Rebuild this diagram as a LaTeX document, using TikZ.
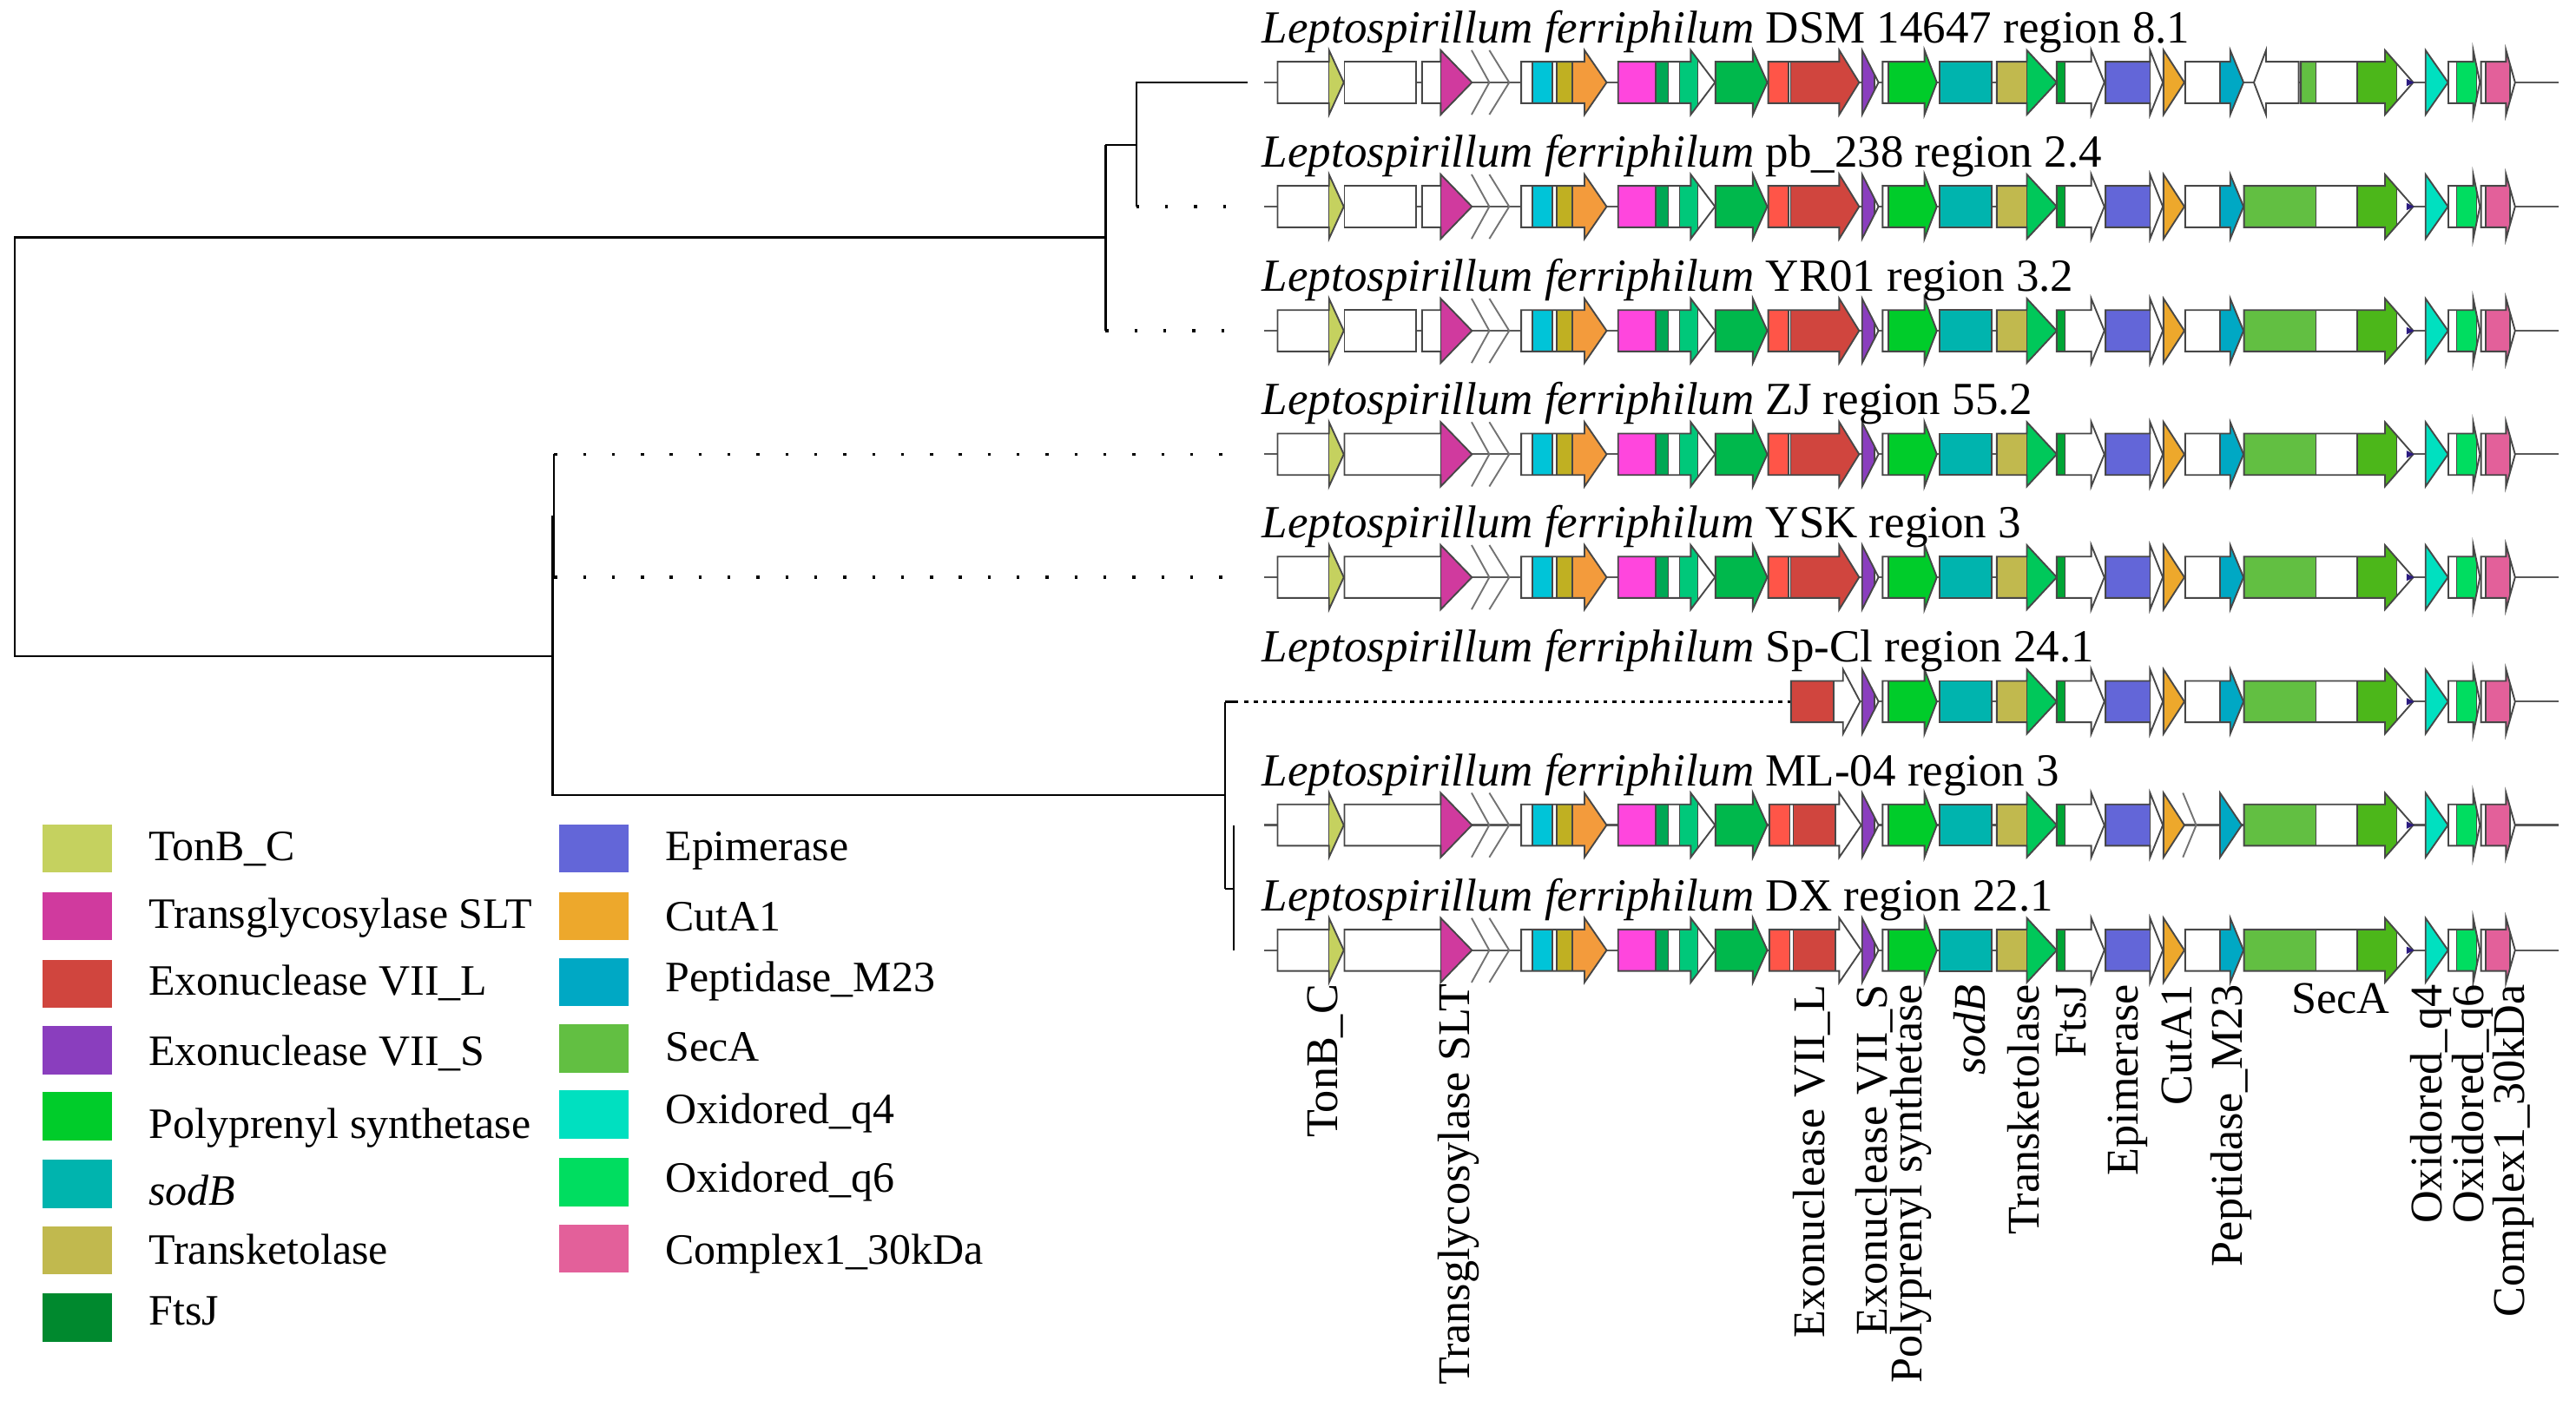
\documentclass[tikz,border=0pt]{standalone}
\usepackage{fontspec}
\setmainfont{Liberation Serif}
\definecolor{ctonb}{HTML}{C5D15F}
\definecolor{cslt}{HTML}{D03A9E}
\definecolor{cexol}{HTML}{D0453E}
\definecolor{cexored}{HTML}{FF5548}
\definecolor{cexos}{HTML}{8A3EBE}
\definecolor{cpoly}{HTML}{00CC2A}
\definecolor{csodb}{HTML}{00B4AE}
\definecolor{ctransk}{HTML}{C1B94E}
\definecolor{cftsj}{HTML}{00892E}
\definecolor{cftsjrow}{HTML}{00A535}
\definecolor{cepim}{HTML}{6366D8}
\definecolor{ccuta}{HTML}{EDA82C}
\definecolor{cpept}{HTML}{00A8C4}
\definecolor{cseca}{HTML}{62BF42}
\definecolor{csecb}{HTML}{4CB71A}
\definecolor{cq4}{HTML}{00E0C0}
\definecolor{cq6}{HTML}{00DD60}
\definecolor{ccomplex}{HTML}{E3609A}
\definecolor{ccyan}{HTML}{00C4D8}
\definecolor{colive}{HTML}{C0B022}
\definecolor{corange}{HTML}{F39B3C}
\definecolor{cpink}{HTML}{FF46DD}
\definecolor{cdkgreen}{HTML}{00A855}
\definecolor{ctealgreen}{HTML}{00C87A}
\definecolor{cmidgreen}{HTML}{00B84C}
\definecolor{cheadgreen}{HTML}{00C85A}
\definecolor{cnavy}{HTML}{2A1A80}
\tikzset{
  gout/.style={draw=black!72, line width=0.5pt, line join=miter},
  dline/.style={draw=black!72, line width=0.4pt},
  backbone/.style={draw=black!65, line width=0.6pt},
  tree/.style={draw=black, line width=0.6pt},
  dotline/.style={line width=0.9pt, dash pattern=on 0.9pt off 7.9pt},
  finedots/.style={draw=black, line width=0.6pt, dash pattern=on 1.2pt off 1.6pt},
  rowlab/.style={font=\fontsize{14}{16}\selectfont, inner sep=0pt, anchor=base west},
  leglab/.style={font=\fontsize{13.2}{15}\selectfont, inner sep=0pt, anchor=base west},
  botlab/.style={font=\fontsize{13.8}{15}\selectfont, inner sep=0pt, rotate=90, anchor=east},
  legbox/.style={inner sep=0pt, minimum width=21.35pt, minimum height=14.65pt, anchor=north west}
}
% gene arrow: y, start, head start, tip, domains colour/x1/x2
\newcommand{\genearrow}[5]{%
  \begin{scope}
    \clip (#2,#1-12.6) -- (#3,#1-12.6) -- (#3,#1-19.6) -- (#4,#1) -- (#3,#1+19.6) -- (#3,#1+12.6) -- (#2,#1+12.6) -- cycle;
    \fill[white] (#2-1,#1-25) rectangle (#4+1,#1+25);
    \foreach \dc/\da/\db in {#5}{\fill[\dc] (\da,#1-25) rectangle (\db,#1+25);
      \draw[dline] (\da,#1-25) -- (\da,#1+25) (\db,#1-25) -- (\db,#1+25);}
  \end{scope}
  \draw[gout] (#2,#1-12.6) -- (#3,#1-12.6) -- (#3,#1-19.6) -- (#4,#1) -- (#3,#1+19.6) -- (#3,#1+12.6) -- (#2,#1+12.6) -- cycle;
}
\newcommand{\rectgene}[4]{\draw[gout, fill=#4] (#2,#1-12.6) rectangle (#3,#1+12.6);}
\newcommand{\chevron}[3]{\draw[gout, draw=black!55] (#2,#1-19.6) -- (#3,#1) -- (#2,#1+19.6);}
\newcommand{\rowleft}[1]{%
  \genearrow{#1}{777.7}{809}{818}{ctonb/809/818}
  \chevron{#1}{895.8}{906.6}
  \chevron{#1}{906.6}{918.7}
  \genearrow{#1}{926}{964.5}{978}{ccyan/932.7/944.9,colive/947.6/957,corange/957/985}
  \genearrow{#1}{985}{1029.2}{1044}{cpink/985/1007.9,cdkgreen/1007.9/1015.6,ctealgreen/1022.5/1033.5}
  \genearrow{#1}{1044.2}{1067}{1075.8}{cmidgreen/1044.2/1080}
}
\newcommand{\rowright}[1]{%
  \genearrow{#1}{1133.5}{1133.5}{1143.5}{cexos/1133.5/1141}
  \genearrow{#1}{1146}{1171.5}{1179}{cpoly/1149.5/1185}
  \rectgene{#1}{1180.8}{1212.4}{csodb}
  \genearrow{#1}{1215.5}{1233.8}{1252}{ctransk/1215.5/1233.8,cheadgreen/1233.8/1260}
  \genearrow{#1}{1252}{1273}{1281}{cftsjrow/1252/1257}
  \genearrow{#1}{1281.7}{1308.8}{1316.6}{cepim/1281.7/1308.8}
  \genearrow{#1}{1317}{1317}{1329.7}{ccuta/1317/1335}
}
\newcommand{\rowend}[1]{%
  \fill[cnavy] (1465,#1-2.2) -- (1469.5,#1) -- (1465,#1+2.2) -- cycle;
  \genearrow{#1}{1476.5}{1476.5}{1490.2}{cq4/1476.5/1495}
  \genearrow{#1}{1490.4}{1505.5}{1509.6}{cq6/1495.3/1507.5}
  \genearrow{#1}{1510.3}{1525.5}{1531}{ccomplex/1513.2/1528}
}
\newcommand{\secagene}[2]{\genearrow{#1}{#2}{1451.8}{1469}{cseca/#2/1409.7,csecb/1435/1459}}
\newcommand{\peptgene}[1]{\genearrow{#1}{1330.2}{1357.6}{1365.7}{cpept/1351.5/1370}}
\newcommand{\sltgene}[1]{\genearrow{#1}{818.4}{877}{896}{cslt/877/896}}
\newcommand{\sltpair}[1]{\rectgene{#1}{818.4}{862}{white}\genearrow{#1}{865.6}{877}{896}{cslt/877/896}}
\newcommand{\exoA}[1]{\genearrow{#1}{1076.4}{1119.6}{1131.7}{cexored/1076.4/1088.6,cexol/1090/1140}}
\newcommand{\exoB}[1]{\genearrow{#1}{1077}{1119.6}{1133}{cexored/1077/1089.4,cexol/1091.7/1117.2}}

\begin{document}
\begin{tikzpicture}[x=0.5pt,y=-0.5pt]
\useasboundingbox (0,0) rectangle (1568.1,856.7);
\fill[white] (0,0) rectangle (1568.1,856.7);

% ---------------- tree ----------------
\coordinate (root1) at (8.9,144.6);
\coordinate (root2) at (8.9,399.6);
\coordinate (nA) at (673,144.6);
\coordinate (nB) at (691.7,88.1);
\coordinate (nC) at (336.4,399.6);
\coordinate (nE) at (745.8,484);
\draw[tree] (nA) -- (root1) -- (root2) -- (nC);
\draw[tree] (673,88.1) -- (673,201.4);
\draw[tree] (673,88.1) -- (nB);
\draw[tree] (759.5,50.2) -- (691.7,50.2) -- (691.7,125.8);
\draw[tree,dotline] (691.7,125.8) -- (759.5,125.8);
\draw[tree,dotline] (673,201.4) -- (759.5,201.4);
\draw[tree] (336.4,314) -- (336.4,484) -- (nE);
\draw[tree] (337.3,276.6) -- (337.3,351.5);
\draw[tree,dotline] (337.3,276.6) -- (759.5,276.6);
\draw[tree,dotline] (337.3,351.5) -- (759.5,351.5);
\draw[tree] (745.8,427.3) -- (745.8,541);
\draw[tree] (745.8,427.3) -- (753.6,427.3);
\draw[finedots] (757.6,427.3) -- (1090,427.3);
\draw[tree] (745.8,541) -- (751,541);
\draw[tree] (751,502.4) -- (751,578.6);

% ---------------- backbones ----------------
\foreach \yy in {50.2,125.8,201.4,276.6,351.5,502.4,578.6}{\draw[backbone] (769.5,\yy) -- (1557.4,\yy);}
\draw[backbone] (1090,427.2) -- (1557.4,427.2);

% ---------------- row 1 ----------------
\rowleft{50.2}\sltpair{50.2}\exoA{50.2}\rowright{50.2}\peptgene{50.2}
\draw[gout, fill=white] (1399.3,50.2-12.6) -- (1379.4,50.2-12.6) -- (1379.4,50.2-19.6) -- (1372,50.2) -- (1379.4,50.2+19.6) -- (1379.4,50.2+12.6) -- (1399.3,50.2+12.6) -- cycle;
\secagene{50.2}{1400.6}\rowend{50.2}
% ---------------- row 2 ----------------
\rowleft{125.8}\sltpair{125.8}\exoA{125.8}\rowright{125.8}\peptgene{125.8}\secagene{125.8}{1366}\rowend{125.8}
% ---------------- row 3 ----------------
\rowleft{201.4}\sltpair{201.4}\exoA{201.4}\rowright{201.4}\peptgene{201.4}\secagene{201.4}{1366}\rowend{201.4}
% ---------------- row 4 ----------------
\rowleft{276.6}\sltgene{276.6}\exoA{276.6}\rowright{276.6}\peptgene{276.6}\secagene{276.6}{1366}\rowend{276.6}
% ---------------- row 5 ----------------
\rowleft{351.5}\sltgene{351.5}\exoA{351.5}\rowright{351.5}\peptgene{351.5}\secagene{351.5}{1366}\rowend{351.5}
% ---------------- row 6 ----------------
\genearrow{427.2}{1090.2}{1121.9}{1132.3}{cexol/1090.2/1116.2}
\rowright{427.2}\peptgene{427.2}\secagene{427.2}{1366}\rowend{427.2}
% ---------------- row 7 ----------------
\rowleft{502.4}\sltgene{502.4}\exoB{502.4}\rowright{502.4}
\chevron{502.4}{1328.8}{1336.9}
\genearrow{502.4}{1351.4}{1351.4}{1364.6}{cpept/1351.4/1370}
\secagene{502.4}{1366}\rowend{502.4}
% ---------------- row 8 ----------------
\rowleft{578.6}\sltgene{578.6}\exoB{578.6}\rowright{578.6}\peptgene{578.6}\secagene{578.6}{1366}\rowend{578.6}

% ---------------- row labels ----------------
\node[rowlab] (lab1) at (768,26.2) {\textit{Leptospirillum ferriphilum} DSM 14647 region 8.1};
\node[rowlab] (lab2) at (768,101.8) {\textit{Leptospirillum ferriphilum} pb\_238 region 2.4};
\node[rowlab] (lab3) at (768,177.4) {\textit{Leptospirillum ferriphilum} YR01 region 3.2};
\node[rowlab] (lab4) at (768,252.6) {\textit{Leptospirillum ferriphilum} ZJ region 55.2};
\node[rowlab] (lab5) at (768,327.5) {\textit{Leptospirillum ferriphilum} YSK region 3};
\node[rowlab] (lab6) at (768,403.2) {\textit{Leptospirillum ferriphilum} Sp-Cl region 24.1};
\node[rowlab] (lab7) at (768,478.4) {\textit{Leptospirillum ferriphilum} ML-04 region 3};
\node[rowlab] (lab8) at (768,554.6) {\textit{Leptospirillum ferriphilum} DX region 22.1};

% ---------------- bottom labels ----------------
\node[botlab] (b1) at (807,599) {TonB\_C};
\node[botlab] (b2) at (888,599) {Transglycosylase SLT};
\node[botlab] (b3) at (1102.8,599) {Exonuclease VII\_L};
\node[botlab] (b4) at (1140.8,599) {Exonuclease VII\_S};
\node[botlab] (b5) at (1163.5,599) {Polyprenyl synthetase};
\node[botlab] (b6) at (1199,599) {\textit{sodB}};
\node[botlab] (b7) at (1231.8,599) {Transketolase};
\node[botlab] (b8) at (1261,599) {FtsJ};
\node[botlab] (b9) at (1295,599) {Epimerase};
\node[botlab] (b10) at (1325.3,599) {CutA1};
\node[botlab] (b11) at (1358,599) {Peptidase\_M23};
\node[font=\fontsize{13.8}{15}\selectfont, inner sep=0pt, anchor=base west] (b12) at (1394.6,617) {SecA};
\node[botlab] (b13) at (1479.6,599) {Oxidored\_q4};
\node[botlab] (b14) at (1505,599) {Oxidored\_q6};
\node[botlab] (b15) at (1530,599) {Complex1\_30kDa};

% ---------------- legend ----------------
\node[legbox, fill=ctonb] (k1) at (25.3,501.5) {};
\node[legbox, fill=cslt] (k2) at (25.3,542.7) {};
\node[legbox, fill=cexol] (k3) at (25.3,584) {};
\node[legbox, fill=cexos] (k4) at (25.3,624.4) {};
\node[legbox, fill=cpoly] (k5) at (25.3,664.7) {};
\node[legbox, fill=csodb] (k6) at (25.3,705.8) {};
\node[legbox, fill=ctransk] (k7) at (25.3,746.2) {};
\node[legbox, fill=cftsj] (k8) at (25.3,787.3) {};
\node[legbox, fill=cepim] (k9) at (339.8,501.5) {};
\node[legbox, fill=ccuta] (k10) at (339.8,542.7) {};
\node[legbox, fill=cpept] (k11) at (339.8,583) {};
\node[legbox, fill=cseca] (k12) at (339.8,623.3) {};
\node[legbox, fill=cq4] (k13) at (339.8,663.6) {};
\node[legbox, fill=cq6] (k14) at (339.8,704.8) {};
\node[legbox, fill=ccomplex] (k15) at (339.8,745.1) {};
\node[leglab] (t1) at (90.2,524) {TonB\_C};
\node[leglab] (t2) at (90.2,565) {Transglycosylase SLT};
\node[leglab] (t3) at (90.2,606) {Exonuclease VII\_L};
\node[leglab] (t4) at (90.2,649) {Exonuclease VII\_S};
\node[leglab] (t5) at (90.2,693) {Polyprenyl synthetase};
\node[leglab] (t6) at (90.2,734) {\textit{sodB}};
\node[leglab] (t7) at (90.2,770) {Transketolase};
\node[leglab] (t8) at (90.2,807) {FtsJ};
\node[leglab] (t9) at (404.7,524) {Epimerase};
\node[leglab] (t10) at (404.7,567) {CutA1};
\node[leglab] (t11) at (404.7,604) {Peptidase\_M23};
\node[leglab] (t12) at (404.7,646) {SecA};
\node[leglab] (t13) at (404.7,684) {Oxidored\_q4};
\node[leglab] (t14) at (404.7,726) {Oxidored\_q6};
\node[leglab] (t15) at (404.7,770) {Complex1\_30kDa};
\end{tikzpicture}
\end{document}
